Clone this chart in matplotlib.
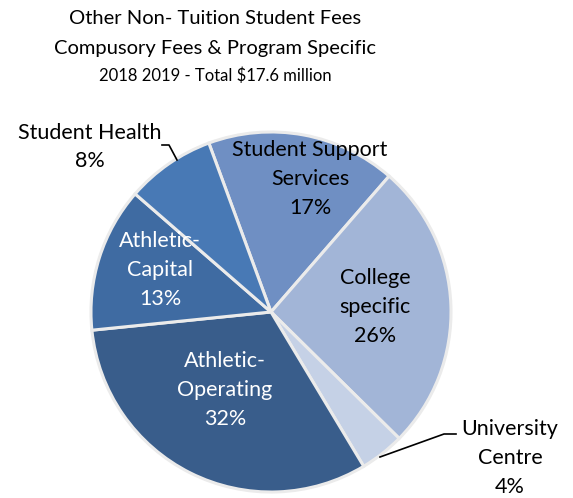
import matplotlib.pyplot as plt

plt.rcParams['font.family'] = ['Lato', 'DejaVu Sans']

# fee categories, clockwise from the top
categories = ['Student Support\nServices', 'College\nspecific', 'University\nCentre',
              'Athletic-\nOperating', 'Athletic-\nCapital', 'Student Health']
shares = [17, 26, 4, 32, 13, 8]
colors = ['#6F8FC3', '#A2B5D7', '#C5D1E6', '#395D8B', '#3F6BA2', '#4879B5']

W, H = 573, 498
fig = plt.figure(figsize=(W / 100, H / 100), dpi=100)
ax = fig.add_axes([0, 0, 1, 1])

cx, cy, r = 271, H - 312, 180
wedges, _ = ax.pie(shares, colors=colors, startangle=110.2, counterclock=False,
                   center=(cx, cy), radius=r, explode=[0.022] * len(shares),
                   wedgeprops=dict(edgecolor='#ebebeb', linewidth=2.2),
                   frame=True)
ax.set_xlim(0, W)
ax.set_ylim(0, H)
ax.set_aspect('equal')
ax.axis('off')

def py(y):
    return H - y

# titles
ax.text(215, py(18), 'Other Non- Tuition Student Fees', ha='center', va='center', fontsize=14.5)
ax.text(215, py(48), 'Compusory Fees & Program Specific', ha='center', va='center', fontsize=14.5)
ax.text(215, py(76), '2018 2019 - Total $17.6 million', ha='center', va='center', fontsize=12)

lbl = dict(ha='center', va='center', fontsize=15.5, linespacing=1.55)
ax.text(310, py(179), f'{categories[0]}\n{shares[0]}%', color='black', **lbl)
ax.text(375, py(307), f'{categories[1]}\n{shares[1]}%', color='black', **lbl)
ax.text(225, py(390), f'{categories[3]}\n{shares[3]}%', color='white', **lbl)
ax.text(160, py(270), f'{categories[4]}\n{shares[4]}%', color='white', **lbl)
ax.text(90, py(147), f'{categories[5]}\n{shares[5]}%', color='black', **lbl)
ax.text(510, py(458), f'{categories[2]}\n{shares[2]}%', color='black', **lbl)

# leader lines for the small outside labels
ax.plot([162, 169, 177], [py(145), py(145), py(160)], color='black', lw=1.2)
ax.plot([456, 444, 380], [py(434), py(434), py(457)], color='black', lw=1.2)

fig.savefig('out.png', dpi=100)
